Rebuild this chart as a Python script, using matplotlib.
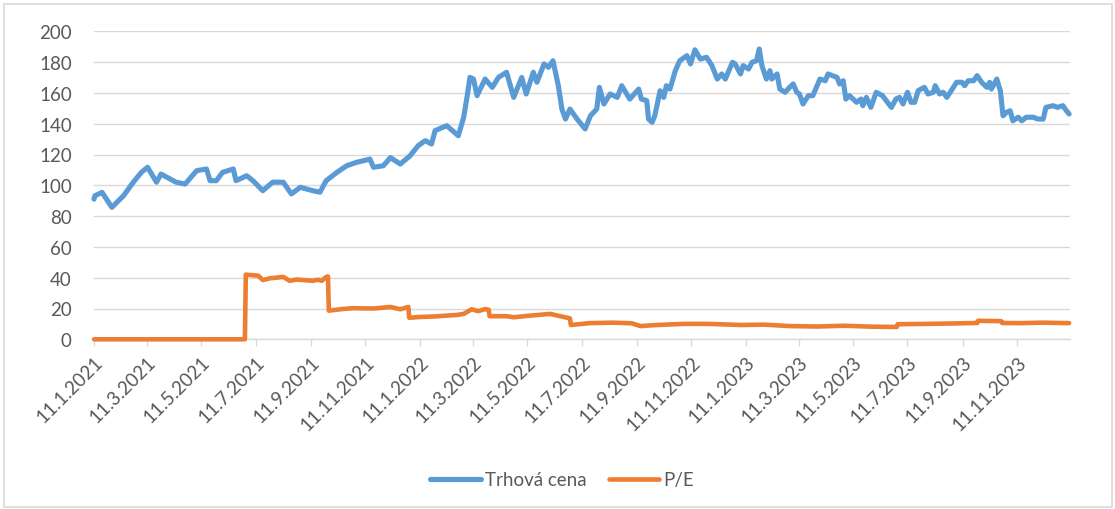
import matplotlib.pyplot as plt
import matplotlib.dates as mdates
import matplotlib.patches as mpatches
import pandas as pd

# Trhova cena (market price)
price_dates = [
    "2021-01-11", "2021-01-12", "2021-01-20", "2021-01-31", "2021-02-13", "2021-02-24",
    "2021-03-05", "2021-03-12", "2021-03-22", "2021-03-27", "2021-04-13", "2021-04-23",
    "2021-05-06", "2021-05-17", "2021-05-21", "2021-05-28", "2021-06-04", "2021-06-16",
    "2021-06-19", "2021-07-01", "2021-07-08", "2021-07-19", "2021-07-30", "2021-08-11",
    "2021-08-20", "2021-08-30", "2021-09-13", "2021-09-21", "2021-09-28", "2021-10-10",
    "2021-10-21", "2021-11-01", "2021-11-16", "2021-11-20", "2021-12-01", "2021-12-09",
    "2021-12-20", "2021-12-31", "2022-01-09", "2022-01-17", "2022-01-24", "2022-01-28",
    "2022-02-10", "2022-02-23", "2022-03-01", "2022-03-05", "2022-03-08", "2022-03-12",
    "2022-03-16", "2022-03-25", "2022-04-02", "2022-04-09", "2022-04-18", "2022-04-26",
    "2022-05-05", "2022-05-10", "2022-05-18", "2022-05-22", "2022-05-30", "2022-06-04",
    "2022-06-09", "2022-06-15", "2022-06-19", "2022-06-23", "2022-06-28", "2022-07-06",
    "2022-07-15", "2022-07-21", "2022-07-28", "2022-07-31", "2022-08-05", "2022-08-12",
    "2022-08-20", "2022-08-25", "2022-09-03", "2022-09-13", "2022-09-16", "2022-09-22",
    "2022-09-24", "2022-09-28", "2022-10-01", "2022-10-07", "2022-10-11", "2022-10-14",
    "2022-10-18", "2022-10-24", "2022-10-29", "2022-11-06", "2022-11-10", "2022-11-15",
    "2022-11-21", "2022-11-28", "2022-12-04", "2022-12-10", "2022-12-15", "2022-12-19",
    "2022-12-27", "2022-12-30", "2023-01-05", "2023-01-08", "2023-01-14", "2023-01-18",
    "2023-01-23", "2023-01-26", "2023-01-29", "2023-02-03", "2023-02-07", "2023-02-09",
    "2023-02-15", "2023-02-18", "2023-02-24", "2023-03-01", "2023-03-05", "2023-03-09",
    "2023-03-12", "2023-03-16", "2023-03-22", "2023-03-27", "2023-04-04", "2023-04-10",
    "2023-04-13", "2023-04-23", "2023-04-26", "2023-04-30", "2023-05-03", "2023-05-07",
    "2023-05-15", "2023-05-20", "2023-05-22", "2023-05-26", "2023-05-31", "2023-06-06",
    "2023-06-13", "2023-06-23", "2023-06-28", "2023-07-02", "2023-07-06", "2023-07-11",
    "2023-07-15", "2023-07-19", "2023-07-23", "2023-07-26", "2023-07-30", "2023-08-03",
    "2023-08-09", "2023-08-11", "2023-08-16", "2023-08-20", "2023-08-24", "2023-08-29",
    "2023-09-04", "2023-09-10", "2023-09-13", "2023-09-17", "2023-09-23", "2023-09-27",
    "2023-10-02", "2023-10-08", "2023-10-11", "2023-10-13", "2023-10-19", "2023-10-23",
    "2023-10-26", "2023-10-30", "2023-11-03", "2023-11-06", "2023-11-12", "2023-11-16",
    "2023-11-21", "2023-11-29", "2023-12-04", "2023-12-10", "2023-12-13", "2023-12-21",
    "2023-12-26", "2024-01-01", "2024-01-05", "2024-01-08",
]
price_values = [
    91.0, 93.2, 95.4, 85.7, 93.2, 102.0,
    108.4, 111.7, 102.0, 107.3, 102.0, 100.8,
    109.5, 110.6, 103.0, 103.0, 108.4, 110.6,
    103.0, 106.2, 103.0, 96.5, 102.0, 102.0,
    94.4, 98.7, 96.5, 95.5, 103.0, 108.4,
    112.7, 114.9, 117.0, 111.7, 112.7, 118.0,
    113.8, 119.2, 125.7, 129.0, 126.8, 135.5,
    138.7, 132.2, 144.2, 158.2, 170.1, 169.0,
    158.2, 169.0, 163.6, 170.1, 173.4, 157.1,
    170.0, 159.3, 173.4, 166.9, 178.8, 176.6,
    180.9, 164.7, 149.5, 143.0, 149.5, 143.0,
    136.6, 145.2, 149.5, 163.6, 152.8, 159.3,
    157.1, 164.7, 156.0, 162.5, 156.0, 155.0,
    143.0, 140.9, 145.2, 161.4, 157.1, 164.7,
    162.5, 174.4, 180.9, 184.2, 178.8, 188.0,
    182.0, 183.1, 177.7, 169.0, 172.3, 169.0,
    179.9, 178.8, 172.3, 177.7, 175.5, 179.9,
    180.9, 188.5, 177.7, 169.0, 174.4, 169.0,
    172.3, 162.5, 160.4, 163.6, 165.8, 160.4,
    159.3, 152.8, 158.2, 158.2, 169.0, 167.9,
    172.3, 170.1, 165.8, 167.9, 156.0, 158.2,
    153.9, 156.0, 151.7, 157.1, 150.6, 160.4,
    158.2, 150.6, 156.0, 157.1, 152.8, 160.4,
    153.9, 153.9, 161.4, 162.5, 163.6, 159.3,
    160.4, 164.7, 159.3, 160.4, 157.1, 161.4,
    166.9, 166.9, 164.7, 167.9, 167.9, 171.2,
    166.9, 163.6, 166.9, 162.5, 169.0, 161.4,
    145.2, 147.4, 148.4, 141.9, 144.2, 141.9,
    144.2, 144.2, 143.0, 143.0, 150.6, 151.7,
    150.6, 151.7, 148.4, 146.3,
]

# P/E ratio
pe_dates = [
    "2021-01-11", "2021-06-29", "2021-06-30", "2021-07-14", "2021-07-19", "2021-07-27",
    "2021-08-11", "2021-08-18", "2021-08-26", "2021-09-13", "2021-09-19", "2021-09-23",
    "2021-09-28", "2021-09-30", "2021-10-01", "2021-10-17", "2021-10-28", "2021-11-20",
    "2021-12-09", "2021-12-20", "2021-12-29", "2021-12-30", "2022-01-11", "2022-01-26",
    "2022-02-21", "2022-03-01", "2022-03-10", "2022-03-17", "2022-03-25", "2022-03-29",
    "2022-03-30", "2022-04-18", "2022-04-26", "2022-05-11", "2022-06-06", "2022-06-17",
    "2022-06-28", "2022-06-29", "2022-07-20", "2022-08-15", "2022-09-05", "2022-09-15",
    "2022-10-01", "2022-11-01", "2022-12-01", "2023-01-05", "2023-02-01", "2023-03-01",
    "2023-04-01", "2023-05-01", "2023-06-01", "2023-06-29", "2023-06-30", "2023-08-01",
    "2023-09-01", "2023-09-27", "2023-09-28", "2023-10-24", "2023-10-25", "2023-11-15",
    "2023-12-10", "2024-01-08",
]
pe_values = [
    0.0, 0.0, 42.0, 41.3, 38.5, 39.6,
    40.5, 38.0, 38.8, 38.0, 38.7, 38.0,
    40.5, 40.8, 18.6, 19.7, 20.2, 20.0,
    21.0, 19.5, 21.0, 14.0, 14.5, 14.8,
    15.8, 16.5, 19.5, 18.3, 19.6, 19.2,
    15.0, 15.0, 14.3, 15.2, 16.5, 15.0,
    13.6, 9.3, 10.5, 10.8, 10.4, 8.6,
    9.2, 10.0, 10.0, 9.3, 9.5, 8.6,
    8.3, 8.8, 8.2, 8.0, 9.8, 10.0,
    10.3, 10.6, 12.0, 11.8, 10.6, 10.5,
    10.8, 10.5,
]

y_ticks = [0, 20, 40, 60, 80, 100, 120, 140, 160, 180, 200]

blue = "#5B9BD5"
orange = "#ED7D31"
grid_col = "#D9D9D9"
text_col = "#595959"

plt.rcParams["font.family"] = ["Lato", "DejaVu Sans"]

fig = plt.figure(figsize=(11.15, 5.10), dpi=100)
ax = fig.add_axes([94 / 1115, 1 - 340.3 / 510, (1070 - 94) / 1115, 308 / 510])

# chart frame like an embedded office chart
fig.patches.append(mpatches.Rectangle((4 / 1115, 2 / 510), 1108 / 1115, 503 / 510,
                                      transform=fig.transFigure, fill=False,
                                      edgecolor=grid_col, linewidth=1.2))

ax.plot(pd.to_datetime(price_dates), price_values, color=blue, lw=3.7,
        solid_joinstyle="round", solid_capstyle="round", label="Trhová cena",
        zorder=3, clip_on=False)
ax.plot(pd.to_datetime(pe_dates), pe_values, color=orange, lw=3.3,
        solid_joinstyle="round", solid_capstyle="round", label="P/E",
        zorder=3, clip_on=False)

ax.set_ylim(0, 200)
ax.set_yticks(y_ticks)
ax.set_xlim(pd.Timestamp("2021-01-11"), pd.Timestamp("2024-01-09"))
ax.xaxis.set_major_locator(mdates.MonthLocator(bymonth=[1, 3, 5, 7, 9, 11], bymonthday=11))
ax.xaxis.set_major_formatter(mdates.DateFormatter("%-d.%-m.%Y"))

ax.grid(axis="y", color=grid_col, linewidth=1.0)
ax.set_axisbelow(True)
for side in ["top", "right", "left"]:
    ax.spines[side].set_visible(False)
ax.spines["bottom"].set_color(grid_col)
ax.spines["bottom"].set_linewidth(1.0)
ax.spines["bottom"].set_zorder(1)

ax.tick_params(axis="y", length=0, pad=16, labelsize=13.5, labelcolor=text_col)
ax.tick_params(axis="x", length=5, color=grid_col, width=1.0, pad=5,
               labelsize=13.5, labelcolor=text_col)
for lab in ax.get_xticklabels():
    lab.set_rotation(45)
    lab.set_ha("right")
    lab.set_va("top")
    lab.set_rotation_mode("anchor")

fig.legend(loc="center", bbox_to_anchor=(562 / 1115, 1 - 481 / 510), ncol=2,
           frameon=False, fontsize=13.5, labelcolor=text_col, handlelength=2.7,
           handletextpad=0.2, columnspacing=1.2)

fig.savefig("out.png", dpi=100)
